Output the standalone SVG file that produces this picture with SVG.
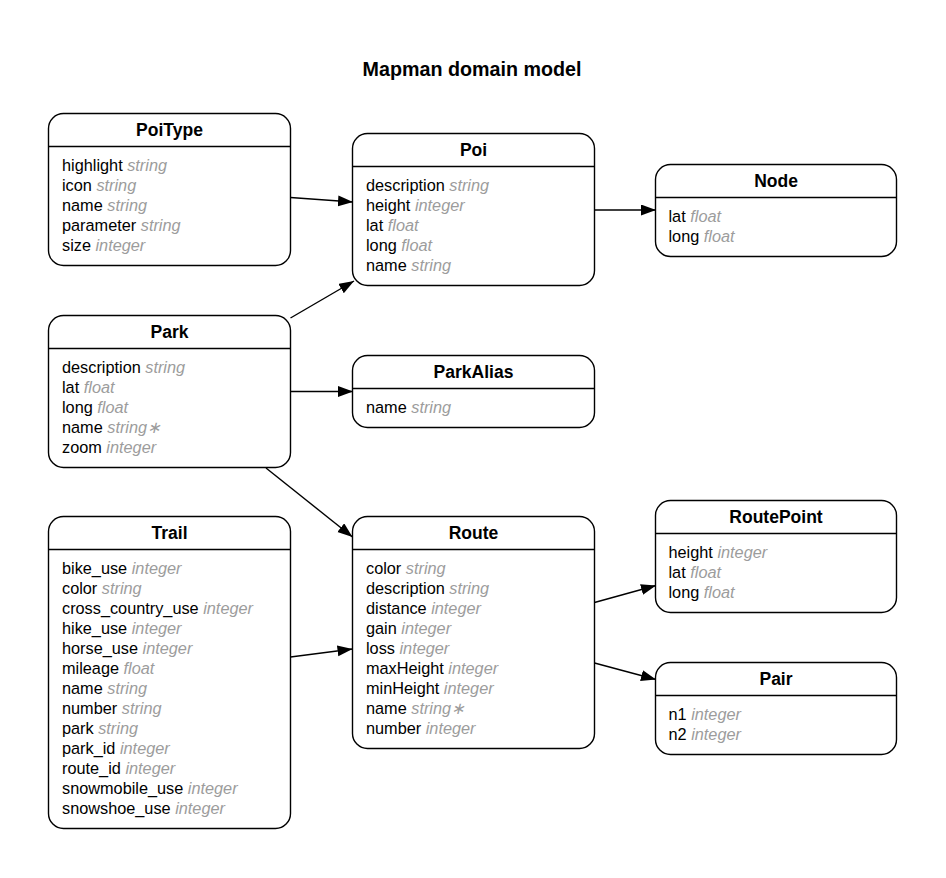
<svg xmlns="http://www.w3.org/2000/svg" width="946" height="878" viewBox="0 0 946 878">
<style>
.bg{fill:#ffffff}
.box{fill:#ffffff;stroke:#000000;stroke-width:1.4}
.div{stroke:#000000;stroke-width:1.4}
.h{font-family:"Liberation Sans",Arial,sans-serif;font-weight:bold;font-size:17.5px;fill:#000000;text-anchor:middle}
.r{font-family:"Liberation Sans",Arial,sans-serif;font-size:16.3px;fill:#000000}
.t{font-style:italic;fill:#9c9c9c}
.title{font-family:"Liberation Sans",Arial,sans-serif;font-weight:bold;font-size:19.7px;fill:#000000;text-anchor:middle}
.e{stroke:#000000;stroke-width:1.4;fill:none;marker-end:url(#arr)}
</style>
<defs>
<marker id="arr" markerUnits="userSpaceOnUse" markerWidth="16" markerHeight="12" refX="15" refY="5.5" orient="auto">
<path d="M0,0 L15,5.5 L0,11 z" fill="#000000"/>
</marker>
</defs>
<rect class="bg" x="0" y="0" width="946" height="878"/>
<text class="title" x="472" y="76">Mapman domain model</text>

<g id="connectors">
<line class="e" x1="290.5" y1="197.5" x2="353" y2="202"/>
<line class="e" x1="594.5" y1="210" x2="656" y2="210"/>
<line class="e" x1="290.5" y1="318" x2="354" y2="281"/>
<line class="e" x1="290.5" y1="391.5" x2="353" y2="391.5"/>
<line class="e" x1="266" y1="468" x2="352.5" y2="537"/>
<line class="e" x1="290.5" y1="657" x2="352.5" y2="649"/>
<line class="e" x1="594.5" y1="602.5" x2="656" y2="585.5"/>
<line class="e" x1="594.5" y1="663" x2="656" y2="679.5"/>
</g>

<g id="PoiType">
<rect class="box" x="48.5" y="113.5" width="242" height="152" rx="15" ry="15"/>
<line class="div" x1="48.5" y1="146.5" x2="290.5" y2="146.5"/>
<text class="h" x="169.5" y="135.5">PoiType</text>
<text class="r" x="62" y="170.5">highlight <tspan class="t">string</tspan></text>
<text class="r" x="62" y="190.5">icon <tspan class="t">string</tspan></text>
<text class="r" x="62" y="210.5">name <tspan class="t">string</tspan></text>
<text class="r" x="62" y="230.5">parameter <tspan class="t">string</tspan></text>
<text class="r" x="62" y="250.5">size <tspan class="t">integer</tspan></text>
</g>

<g id="Poi">
<rect class="box" x="352.5" y="133.5" width="242" height="152" rx="15" ry="15"/>
<line class="div" x1="352.5" y1="166.5" x2="594.5" y2="166.5"/>
<text class="h" x="473.5" y="155.5">Poi</text>
<text class="r" x="366" y="190.5">description <tspan class="t">string</tspan></text>
<text class="r" x="366" y="210.5">height <tspan class="t">integer</tspan></text>
<text class="r" x="366" y="230.5">lat <tspan class="t">float</tspan></text>
<text class="r" x="366" y="250.5">long <tspan class="t">float</tspan></text>
<text class="r" x="366" y="270.5">name <tspan class="t">string</tspan></text>
</g>

<g id="Node">
<rect class="box" x="655.5" y="164.5" width="241" height="92" rx="15" ry="15"/>
<line class="div" x1="655.5" y1="197.5" x2="896.5" y2="197.5"/>
<text class="h" x="776" y="186.5">Node</text>
<text class="r" x="668.5" y="221.5">lat <tspan class="t">float</tspan></text>
<text class="r" x="668.5" y="241.5">long <tspan class="t">float</tspan></text>
</g>

<g id="Park">
<rect class="box" x="48.5" y="315.5" width="242" height="152" rx="15" ry="15"/>
<line class="div" x1="48.5" y1="348.5" x2="290.5" y2="348.5"/>
<text class="h" x="169.5" y="337.5">Park</text>
<text class="r" x="62" y="372.5">description <tspan class="t">string</tspan></text>
<text class="r" x="62" y="392.5">lat <tspan class="t">float</tspan></text>
<text class="r" x="62" y="412.5">long <tspan class="t">float</tspan></text>
<text class="r" x="62" y="432.5">name <tspan class="t">string∗</tspan></text>
<text class="r" x="62" y="452.5">zoom <tspan class="t">integer</tspan></text>
</g>

<g id="ParkAlias">
<rect class="box" x="352.5" y="355.5" width="242" height="72" rx="15" ry="15"/>
<line class="div" x1="352.5" y1="388.5" x2="594.5" y2="388.5"/>
<text class="h" x="473.5" y="377.5">ParkAlias</text>
<text class="r" x="366" y="412.5">name <tspan class="t">string</tspan></text>
</g>

<g id="Trail">
<rect class="box" x="48.5" y="516.5" width="242" height="312" rx="15" ry="15"/>
<line class="div" x1="48.5" y1="549.5" x2="290.5" y2="549.5"/>
<text class="h" x="169.5" y="538.5">Trail</text>
<text class="r" x="62" y="573.5">bike_use <tspan class="t">integer</tspan></text>
<text class="r" x="62" y="593.5">color <tspan class="t">string</tspan></text>
<text class="r" x="62" y="613.5">cross_country_use <tspan class="t">integer</tspan></text>
<text class="r" x="62" y="633.5">hike_use <tspan class="t">integer</tspan></text>
<text class="r" x="62" y="653.5">horse_use <tspan class="t">integer</tspan></text>
<text class="r" x="62" y="673.5">mileage <tspan class="t">float</tspan></text>
<text class="r" x="62" y="693.5">name <tspan class="t">string</tspan></text>
<text class="r" x="62" y="713.5">number <tspan class="t">string</tspan></text>
<text class="r" x="62" y="733.5">park <tspan class="t">string</tspan></text>
<text class="r" x="62" y="753.5">park_id <tspan class="t">integer</tspan></text>
<text class="r" x="62" y="773.5">route_id <tspan class="t">integer</tspan></text>
<text class="r" x="62" y="793.5">snowmobile_use <tspan class="t">integer</tspan></text>
<text class="r" x="62" y="813.5">snowshoe_use <tspan class="t">integer</tspan></text>
</g>

<g id="Route">
<rect class="box" x="352.5" y="516.5" width="242" height="232" rx="15" ry="15"/>
<line class="div" x1="352.5" y1="549.5" x2="594.5" y2="549.5"/>
<text class="h" x="473.5" y="538.5">Route</text>
<text class="r" x="366" y="573.5">color <tspan class="t">string</tspan></text>
<text class="r" x="366" y="593.5">description <tspan class="t">string</tspan></text>
<text class="r" x="366" y="613.5">distance <tspan class="t">integer</tspan></text>
<text class="r" x="366" y="633.5">gain <tspan class="t">integer</tspan></text>
<text class="r" x="366" y="653.5">loss <tspan class="t">integer</tspan></text>
<text class="r" x="366" y="673.5">maxHeight <tspan class="t">integer</tspan></text>
<text class="r" x="366" y="693.5">minHeight <tspan class="t">integer</tspan></text>
<text class="r" x="366" y="713.5">name <tspan class="t">string∗</tspan></text>
<text class="r" x="366" y="733.5">number <tspan class="t">integer</tspan></text>
</g>

<g id="RoutePoint">
<rect class="box" x="655.5" y="500.5" width="241" height="112" rx="15" ry="15"/>
<line class="div" x1="655.5" y1="533.5" x2="896.5" y2="533.5"/>
<text class="h" x="776" y="522.5">RoutePoint</text>
<text class="r" x="668.5" y="557.5">height <tspan class="t">integer</tspan></text>
<text class="r" x="668.5" y="577.5">lat <tspan class="t">float</tspan></text>
<text class="r" x="668.5" y="597.5">long <tspan class="t">float</tspan></text>
</g>

<g id="Pair">
<rect class="box" x="655.5" y="662.5" width="241" height="92" rx="15" ry="15"/>
<line class="div" x1="655.5" y1="695.5" x2="896.5" y2="695.5"/>
<text class="h" x="776" y="684.5">Pair</text>
<text class="r" x="668.5" y="719.5">n1 <tspan class="t">integer</tspan></text>
<text class="r" x="668.5" y="739.5">n2 <tspan class="t">integer</tspan></text>
</g>
</svg>
